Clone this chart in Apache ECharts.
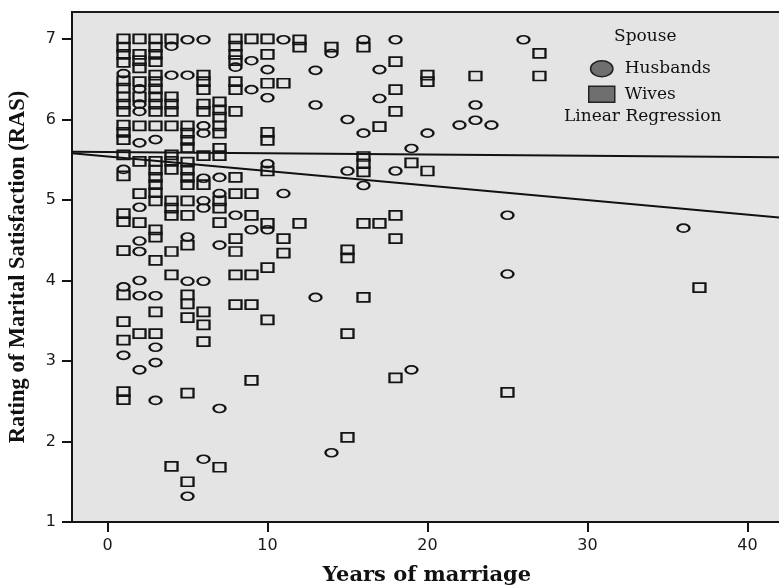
<!DOCTYPE html>
<html>
<head>
<meta charset="utf-8">
<script src="https://cdn.jsdelivr.net/npm/echarts@6/dist/echarts.min.js"></script>
<style>
html,body{margin:0;padding:0;background:#fff;}
#c{width:779px;height:587px;}
</style>
</head>
<body>
<div id="c"></div>
<script>
// ---- data ----
const xTicks = [0, 10, 20, 30, 40];
const yTicks = [1, 2, 3, 4, 5, 6, 7];
const xTitle = 'Years of marriage';
const yTitle = 'Rating of Marital Satisfaction (RAS)';
const seriesNames = ['Husbands', 'Wives'];

// [years of marriage, RAS]
const husbands = [
  [1,6.57],[1,5.38],[1,3.92],[1,3.07],
  [2,6.38],[2,6.19],[2,6.10],[2,5.71],[2,4.91],[2,4.49],[2,4.36],[2,4.00],[2,3.81],[2,2.89],
  [3,5.75],[3,3.81],[3,3.17],[3,2.98],[3,2.51],
  [4,6.91],[4,6.55],
  [5,6.99],[5,6.55],[5,4.54],[5,3.99],[5,1.32],
  [6,6.99],[6,5.92],[6,5.83],[6,5.27],[6,4.99],[6,4.90],[6,3.99],[6,1.78],
  [7,5.28],[7,5.08],[7,4.44],[7,2.41],
  [8,6.65],[8,4.81],
  [9,6.73],[9,6.37],[9,4.63],
  [10,6.62],[10,6.27],[10,5.45],[10,4.63],
  [11,6.99],[11,5.08],
  [13,6.61],[13,6.18],[13,3.79],
  [14,6.82],[14,1.86],
  [15,6.00],[15,5.36],
  [16,6.99],[16,5.83],[16,5.18],
  [17,6.62],[17,6.26],
  [18,6.99],[18,5.36],
  [19,5.64],[19,2.89],
  [20,5.83],
  [22,5.93],
  [23,6.18],[23,5.99],
  [24,5.93],
  [25,4.81],[25,4.08],
  [26,6.99],
  [36,4.65]
];

const wives = [
  [1,7.00],[1,6.90],[1,6.81],[1,6.71],[1,6.48],[1,6.39],[1,6.28],[1,6.19],[1,6.10],[1,5.93],[1,5.84],[1,5.75],
  [1,5.56],[1,5.30],[1,4.83],[1,4.73],[1,4.37],[1,3.82],[1,3.49],[1,3.26],[1,2.62],[1,2.52],
  [2,7.00],[2,6.81],[2,6.73],[2,6.64],[2,6.47],[2,6.28],[2,5.92],[2,5.48],[2,5.08],[2,4.72],[2,3.34],
  [3,7.00],[3,6.90],[3,6.81],[3,6.72],[3,6.55],[3,6.47],[3,6.38],[3,6.28],[3,6.19],[3,6.10],[3,5.92],
  [3,5.48],[3,5.37],[3,5.28],[3,5.19],[3,5.09],[3,4.99],[3,4.63],[3,4.54],[3,4.25],[3,3.61],[3,3.34],
  [4,7.00],[4,6.28],[4,6.19],[4,6.10],[4,5.92],[4,5.56],[4,5.48],[4,5.38],[4,4.99],[4,4.90],[4,4.81],
  [4,4.36],[4,4.07],[4,1.69],
  [5,5.92],[5,5.83],[5,5.74],[5,5.65],[5,5.47],[5,5.37],[5,5.28],[5,5.19],[5,4.99],[5,4.81],[5,4.44],
  [5,3.82],[5,3.71],[5,3.54],[5,2.60],[5,1.50],
  [6,6.55],[6,6.47],[6,6.37],[6,6.19],[6,6.10],[6,5.55],[6,5.19],[6,3.61],[6,3.45],[6,3.24],
  [7,6.22],[7,6.12],[7,6.03],[7,5.92],[7,5.83],[7,5.64],[7,5.55],[7,4.99],[7,4.90],[7,4.72],[7,1.68],
  [8,7.00],[8,6.91],[8,6.81],[8,6.73],[8,6.47],[8,6.37],[8,6.10],[8,5.28],[8,5.08],[8,4.52],[8,4.36],
  [8,4.07],[8,3.70],
  [9,7.00],[9,5.08],[9,4.81],[9,4.07],[9,3.70],[9,2.76],
  [10,7.00],[10,6.81],[10,6.45],[10,5.84],[10,5.74],[10,5.36],[10,4.71],[10,4.16],[10,3.51],
  [11,6.45],[11,4.52],[11,4.34],
  [12,6.99],[12,6.90],[12,4.71],
  [14,6.90],
  [15,4.38],[15,4.28],[15,3.34],[15,2.05],
  [16,6.90],[16,5.54],[16,5.45],[16,5.35],[16,4.71],[16,3.79],
  [17,5.91],[17,4.71],
  [18,6.72],[18,6.37],[18,6.10],[18,4.81],[18,4.52],[18,2.79],
  [19,5.46],
  [20,6.55],[20,6.47],[20,5.36],
  [23,6.54],
  [25,2.61],
  [27,6.82],[27,6.54],
  [37,3.91]
];

// linear regression fit lines (endpoints at the plot edges)
const fitFlat = [[-2.22, 5.60], [42.16, 5.53]];
const fitDecline = [[-2.22, 5.58], [42.16, 4.78]];

// ---- chart ----
const X_MIN = -2.22, X_MAX = 42.16, Y_MIN = 1, Y_MAX = 7.335;
const ellipse = 'path://M0,5A7,5 0 1,1 14,5A7,5 0 1,1 0,5Z';
const ink = '#141414';

const chart = echarts.init(document.getElementById('c'), null, {renderer: 'canvas'});
chart.setOption({
  animation: false,
  backgroundColor: '#ffffff',
  grid: {
    left: 72, top: 12, right: -3, bottom: 65,
    containLabel: false, outerBoundsMode: 'none',
    show: true, backgroundColor: '#e4e4e4', borderColor: '#1a1a1a', borderWidth: 2
  },
  xAxis: {
    type: 'value', min: X_MIN, max: X_MAX,
    splitLine: {show: false},
    axisLine: {show: true, onZero: false, lineStyle: {color: ink, width: 2}},
    axisTick: {show: true, length: 10, lineStyle: {color: ink, width: 2}, customValues: xTicks},
    axisLabel: {customValues: xTicks, margin: 16, color: '#1a1a1a', fontSize: 16, fontFamily: 'DejaVu Sans'},
    name: xTitle, nameLocation: 'middle', nameGap: 43,
    nameTextStyle: {fontFamily: 'DejaVu Serif', fontWeight: 'bold', fontSize: 21, color: '#111'}
  },
  yAxis: {
    type: 'value', min: Y_MIN, max: Y_MAX,
    splitLine: {show: false},
    axisLine: {show: true, onZero: false, lineStyle: {color: ink, width: 2}},
    axisTick: {show: true, length: 10, lineStyle: {color: ink, width: 2}, customValues: yTicks},
    axisLabel: {customValues: yTicks, margin: 16, color: '#1a1a1a', fontSize: 16, fontFamily: 'DejaVu Sans'},
    name: yTitle, nameLocation: 'middle', nameGap: 42, nameRotate: 90,
    nameTextStyle: {fontFamily: 'Liberation Serif', fontWeight: 'bold', fontSize: 22.5, color: '#111'}
  },
  legend: {
    orient: 'vertical', left: 583, top: 55,
    itemWidth: 26, itemHeight: 16, itemGap: 8,
    selectedMode: false,
    textStyle: {fontFamily: 'DejaVu Serif', fontSize: 17, color: '#111', padding: [0, 0, 0, 5]},
    data: [
      {name: seriesNames[0], icon: ellipse, itemStyle: {color: '#6f6f6f', borderColor: '#222', borderWidth: 1.5}},
      {name: seriesNames[1], icon: 'rect', itemStyle: {color: '#6f6f6f', borderColor: '#222', borderWidth: 1.5}}
    ]
  },
  graphic: [
    {type: 'text', left: 614, top: 28, silent: true,
     style: {text: 'Spouse', fontFamily: 'DejaVu Serif', fontSize: 17, fill: '#111'}},
    {type: 'text', left: 564, top: 108, silent: true,
     style: {text: 'Linear Regression', fontFamily: 'DejaVu Serif', fontSize: 17, fill: '#111'}}
  ],
  series: [
    {
      name: 'fit-flat', type: 'line', data: fitFlat, symbol: 'none', silent: true,
      lineStyle: {color: '#111', width: 2}, z: 3
    },
    {
      name: 'fit-decline', type: 'line', data: fitDecline, symbol: 'none', silent: true,
      lineStyle: {color: '#111', width: 2}, z: 3
    },
    {
      name: seriesNames[0], type: 'scatter', data: husbands,
      symbol: ellipse, symbolSize: [12, 8],
      itemStyle: {color: 'rgba(0,0,0,0)', borderColor: ink, borderWidth: 2, opacity: 1},
      z: 4
    },
    {
      name: seriesNames[1], type: 'scatter', data: wives,
      symbol: 'rect', symbolSize: [12, 9],
      itemStyle: {color: 'rgba(0,0,0,0)', borderColor: ink, borderWidth: 2, opacity: 1},
      z: 4
    }
  ]
});
</script>
</body>
</html>
